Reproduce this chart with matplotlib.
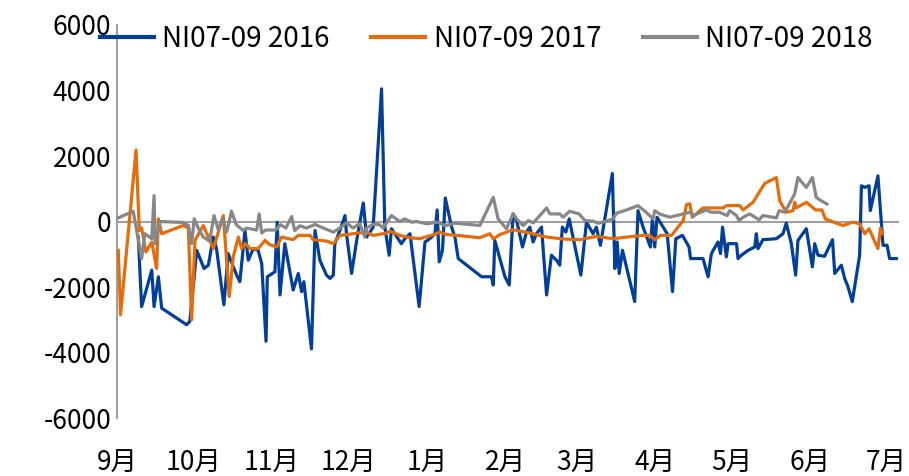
import matplotlib
matplotlib.use('Agg')
import matplotlib.pyplot as plt

plt.rcParams['font.family'] = ['Noto Sans CJK SC', 'DejaVu Sans']
plt.rcParams['axes.unicode_minus'] = False

# days counted from 1 Sep
months = ['9月', '10月', '11月', '12月', '1月', '2月', '3月', '4月', '5月', '6月', '7月']
month_days = [0, 30, 61, 91, 122, 153, 181, 212, 242, 273, 303]
y_ticks = [-6000, -4000, -2000, 0, 2000, 4000, 6000]

days_2016 = [8.4, 9.7, 13.7, 14.6, 16.3, 17.6, 27.4, 28.7, 31.4, 34.3, 36, 37.9, 39.2, 42.1, 43.8,
             47.1, 48.4, 50.4, 51.7, 53.7, 55.6, 57, 58.7, 59.2, 62.2, 63.1, 64.2, 66.1, 69.4, 71.4,
             72.7, 73.6, 76.6, 78, 79.9, 82.5, 83.9, 85.2, 85.8, 87.8, 89.8, 90.4, 92.4, 94.4, 97,
             98.3, 100.9, 104.2, 105.5, 107.2, 108.1, 112, 113.4, 115.4, 119, 121.3, 123.2, 125.2,
             126.1, 126.9, 128.2, 129.3, 131.8, 133.1, 134.4, 143.6, 147.5, 148.2, 148.8, 152.8,
             154.5, 156, 157.4, 159.7, 161.3, 162.6, 163.9, 165.2, 167.2, 169.2, 171.1, 173.1,
             174.4, 175.4, 176.8, 178.1, 182.7, 184.9, 187.5, 188.8, 190.4, 195.1, 196.1, 197,
             197.8, 199.1, 203.9, 205.2, 207.2, 210.1, 210.9, 211.8, 212.7, 216.7, 218.8, 220.1,
             222.7, 225.3, 225.9, 230.8, 232.8, 234.1, 236.7, 237.7, 238.5, 240, 240.7, 244, 244.6,
             245.9, 248.6, 251.2, 251.8, 252.5, 254.4, 259.7, 262.3, 263.6, 265.6, 267.3, 268.2,
             271.5, 273.9, 274.8, 276.1, 278.7, 281.8, 282.7, 285.3, 286.6, 287.9, 289.6, 292.5,
             293.2, 294.5, 296.2, 296.7, 299.7, 301.7, 303.3, 304.3, 307]
vals_2016 = [-475, -2597, -1485, -2597, -1688, -2646, -3151, -3050, -879, -1434, -1333, -475, -828,
             -2545, -980, -1636, -1838, -273, -1182, -828, -879, -1283, -3657, -1687, -1535, -20,
             -2242, -676, -2091, -1586, -2141, -1838, -3889, -273, -1182, -1636, -1737, -1636, -676,
             -273, 182, -373, -1586, -576, 566, -475, -172, 4051, -172, -1030, -222, -676, -525,
             -373, -2597, -626, -525, -373, 354, -1232, -879, 717, -172, -475, -1131, -1687, -1687,
             -1939, -576, -1687, -1939, 232, 30, -778, -323, -172, -626, -373, -172, -2242, -1030,
             -1182, -1333, -172, -323, 81, -1636, -20, -373, -172, -727, 1465, -1434, -626, -1586,
             -879, -2444, 333, -172, -778, 81, -778, 131, -373, -2141, -525, -424, -778, -1131,
             -1131, -1687, -980, -626, -980, -172, -1080, -676, -676, -1131, -1030, -879, -778,
             -373, -828, -555, -525, -373, -51, -676, -1636, -576, -222, -1384, -676, -1030, -1061,
             -555, -1586, -1333, -1737, -1990, -2444, -1030, 1091, 1040, 1091, 333, 1394, -727,
             -727, -1131, -1131]

days_2017 = [0.5, 1.4, 7.5, 8.8, 9.7, 11.4, 13.7, 15.6, 16.3, 17.6, 26.1, 28.1, 29.4, 30.7, 34,
             37.9, 41.9, 44.2, 45.8, 47.8, 49.1, 50.5, 52.4, 55.6, 58.3, 60, 62.9, 64.8, 69.4, 71.4,
             76, 77.3, 82.5, 85.2, 87.8, 93, 98.3, 100.9, 106.2, 107.5, 111.4, 115.4, 119.3, 124.5,
             127.2, 130, 134, 142.9, 146.9, 148.2, 150.8, 156, 162.6, 169.2, 175.7, 182.3, 188.8,
             195.4, 200.7, 207.2, 209.8, 211.8, 214, 218.4, 223, 224.3, 225.6, 226.6, 230.8, 238.7,
             240, 245.3, 246.6, 250.5, 252.5, 255.1, 259.7, 261, 263.6, 266.3, 266.9, 267.6, 271.6,
             275.1, 277.6, 279, 283.3, 285.9, 289.9, 292.5, 294.5, 296.2, 299.7, 300.7, 301.4]
vals_2017 = [-879, -2848, 2180, -273, -200, -929, -626, -1434, 81, -373, -121, -200, -3000, -576,
             -121, -828, 182, -2293, -1080, -475, -828, -670, -828, -828, -576, -700, -778, -475,
             -555, -424, -424, -555, -596, -676, -424, -373, -323, -424, -353, -293, -424, -495,
             -525, -404, -323, -400, -424, -495, -373, -530, -400, -252, -353, -475, -535, -555,
             -455, -525, -475, -424, -424, -555, -424, -424, 30, 515, 540, 131, 414, 414, 485, 485,
             354, 586, 838, 1161, 1343, 636, 283, 333, 586, 420, 586, 354, 354, 81, -51, -121, -20,
             -71, -373, -222, -828, -202, -373]

days_2018 = [0.5, 6.4, 9.7, 11, 13.7, 14.6, 15, 17, 26, 28.1, 29.4, 30.4, 32, 34, 36.5, 38.2, 39.9,
             41.6, 43.2, 45.1, 47, 49.7, 51, 55, 56, 57, 58.5, 62.5, 64.5, 66.5, 68.8, 70, 72, 74.6,
             78, 81.3, 85.2, 87.8, 90.4, 93, 95.6, 97.6, 98.3, 100.9, 103.5, 104.8, 108.1, 111.4,
             113.4, 116, 118, 122, 126.5, 129.2, 133, 142.9, 148.2, 150.1, 153.4, 156, 157.4, 160,
             162, 164, 169.2, 170.5, 174.4, 175.7, 178.3, 182, 184.3, 187.5, 189.5, 191.5, 195.4,
             196.7, 200.7, 205.2, 208.4, 211.1, 211.8, 213.7, 217.7, 223, 225.6, 227, 232.1, 234,
             237.3, 240.3, 241.3, 244, 245, 246.6, 249.2, 252.9, 254.4, 259.7, 260.8, 263, 266.9,
             268.2, 271.5, 273.9, 275.4, 277.3, 279.6]
vals_2018 = [111, 313, -1131, -373, -525, 788, -676, 0, -30, -121, -676, 81, -200, -475, -600, 182,
             -250, 80, -323, 313, -100, -273, -200, -260, 232, -350, -260, -260, -100, -200, 151,
             -280, -130, -200, -90, -200, -323, -200, -40, -200, -60, -475, -200, -80, -100, -200,
             182, 0, 80, -20, 0, -70, -20, -130, -50, -121, 737, 81, -222, 232, 81, -121, 30, -40,
             414, 232, 232, 131, 313, 232, 30, 10, -51, -20, 81, 252, 354, 485, 283, 81, 333, 232,
             131, 232, 283, 182, 354, 283, 283, 182, 333, 182, 30, 131, 232, 51, 182, 111, 333, 283,
             838, 1343, 1040, 1343, 737, 636, 535]

fig = plt.figure(figsize=(9.09, 4.76), dpi=100)
ax = fig.add_axes([0.1287, 0.1218, 0.8603, 0.8257])

ax.axhline(0, color='#a0a0a0', lw=1.5, zorder=1)
ax.plot(days_2016, vals_2016, color='#013f99', lw=2.3, label='NI07-09 2016', zorder=3)
ax.plot(days_2017, vals_2017, color='#e46c0a', lw=2.3, label='NI07-09 2017', zorder=4)
ax.plot(days_2018, vals_2018, color='#878787', lw=2.3, label='NI07-09 2018', zorder=5)

ax.set_xlim(0, 308)
ax.set_ylim(-6000, 6000)
ax.set_xticks(month_days)
ax.set_xticklabels(months)
ax.set_yticks(y_ticks)
ax.tick_params(axis='x', length=0, pad=23, labelsize=19)
ax.tick_params(axis='y', length=0, pad=4, labelsize=19)

for s in ['top', 'right', 'bottom']:
    ax.spines[s].set_visible(False)
ax.spines['left'].set_color('#a0a0a0')
ax.spines['left'].set_linewidth(1.5)

leg = fig.legend(loc='center', bbox_to_anchor=(0.535, 0.918), ncol=3, frameon=False,
                 fontsize=20, handlelength=1.95, columnspacing=1.5, handletextpad=0.3)
for line in leg.get_lines():
    line.set_linewidth(3)

fig.savefig('out.png', dpi=100)
